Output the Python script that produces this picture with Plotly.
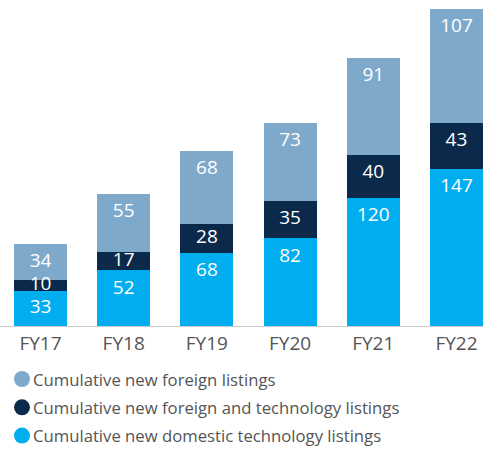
import plotly.graph_objects as go

categories = ["FY17", "FY18", "FY19", "FY20", "FY21", "FY22"]
domestic_tech = [33, 52, 68, 82, 120, 147]
foreign_tech = [10, 17, 28, 35, 40, 43]
foreign = [34, 55, 68, 73, 91, 107]

names = ["Cumulative new domestic technology listings",
         "Cumulative new foreign and technology listings",
         "Cumulative new foreign listings"]
colors = ["#00AEEF", "#0B2A4B", "#7FA9CB"]
series = [domestic_tech, foreign_tech, foreign]

FONT = "Open Sans"
W, H = 483, 449
PLOT_H = 326
Y_MAX = 305.4
PX_PER_UNIT = PLOT_H / Y_MAX
LABEL_OFFSET_PX = 18.3  # label centre sits this far below a segment's top

fig = go.Figure()
base = [0] * len(categories)
label_traces = []
for name, color, vals in zip(names, colors, series):
    fig.add_trace(go.Bar(
        x=categories, y=vals, name=name, marker=dict(color=color, line=dict(width=0)),
        showlegend=False, hoverinfo="skip"))
    ys = []
    for b, v in zip(base, vals):
        centre = b + v / 2
        top_anchor = b + v - LABEL_OFFSET_PX / PX_PER_UNIT
        ys.append(max(centre, top_anchor))
    label_traces.append(go.Scatter(
        x=categories, y=ys, mode="text", text=[str(v) for v in vals],
        textposition="middle center", cliponaxis=False,
        textfont=dict(color="white", size=19, family=FONT),
        showlegend=False, hoverinfo="skip"))
    base = [b + v for b, v in zip(base, vals)]
for t in label_traces:
    fig.add_trace(t)

# legend drawn below the plot: circle + label, top to bottom
legend_order = list(reversed(list(zip(names, colors))))
shapes, annotations = [], []
for i, (name, color) in enumerate(legend_order):
    yc = 379 + i * 28.3  # pixel centre from top
    yp = (PLOT_H - yc) / PLOT_H
    r = 8
    shapes.append(dict(type="circle", xref="paper", yref="paper",
                       x0=(22 - r) / W, x1=(22 + r) / W,
                       y0=(PLOT_H - yc - r) / PLOT_H, y1=(PLOT_H - yc + r) / PLOT_H,
                       fillcolor=color, line=dict(width=0)))
    annotations.append(dict(text=name, xref="paper", yref="paper", x=31 / W, y=yp,
                            xanchor="left", yanchor="middle", showarrow=False,
                            font=dict(size=16.7, color="#555555", family=FONT)))

fig.update_layout(
    barmode="stack", bargap=0.363,
    width=W, height=H,
    margin=dict(l=0, r=0, t=0, b=H - PLOT_H, pad=0, autoexpand=False),
    plot_bgcolor="white", paper_bgcolor="white",
    font=dict(family=FONT, color="#555555"),
    showlegend=False,
    xaxis=dict(range=[-0.487, 5.319], showgrid=False, showline=True, linecolor="#CCCCCC",
               linewidth=1, ticks="", tickfont=dict(size=19, color="#555555"),
               automargin=False, fixedrange=True),
    yaxis=dict(range=[0, Y_MAX], visible=False, showgrid=False, zeroline=False,
               automargin=False, fixedrange=True),
    shapes=shapes, annotations=annotations,
)
fig.write_html("out.html", config={"displayModeBar": False},
               post_script="document.body.style.margin='0';")
